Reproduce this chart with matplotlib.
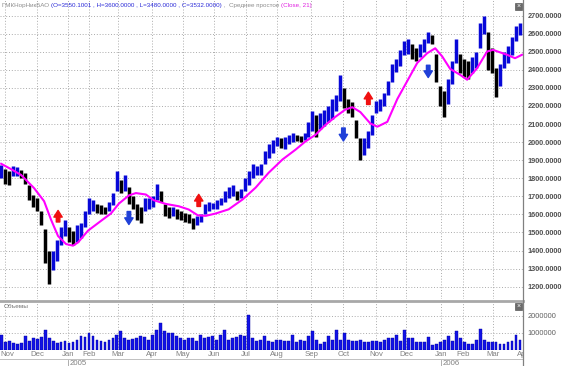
import matplotlib
matplotlib.use('Agg')
import numpy as np
import matplotlib.pyplot as plt
from matplotlib.lines import Line2D
from matplotlib.patches import Rectangle

# ГМКНорНикБАО, дневной график ноя 2004 - апр 2006
# значения, одна точка ~ 2 торговых дня
price_high = [
    1875, 1850, 1840, 1865, 1860, 1845, 1830, 1760, 1710, 1690,
    1620, 1520, 1400, 1400, 1460, 1530, 1570, 1530, 1510, 1540,
    1550, 1620, 1690, 1680, 1660, 1650, 1640, 1670, 1720, 1840,
    1790, 1820, 1750, 1700, 1660, 1640, 1690, 1690, 1700, 1770,
    1730, 1660, 1640, 1640, 1630, 1620, 1610, 1600, 1580, 1590,
    1600, 1660, 1670, 1665, 1680, 1690, 1730, 1750, 1760, 1730,
    1740, 1800, 1840, 1880, 1870, 1880, 1950, 1990, 2010, 2030,
    2020, 2030, 2040, 2050, 2040, 2035, 2050, 2110, 2170, 2150,
    2160, 2180, 2200, 2240, 2260, 2370, 2300, 2240, 2220, 2120,
    2020, 2020, 2060, 2150, 2230, 2240, 2270, 2340, 2430, 2460,
    2510, 2560, 2570, 2540, 2520, 2540, 2570, 2610, 2590, 2490,
    2310, 2280, 2350, 2450, 2570, 2490, 2460, 2450, 2470, 2500,
    2660, 2700, 2610, 2520, 2410, 2430, 2500, 2530, 2580, 2640,
    2660,
]
price_low = [
    1800, 1770, 1760, 1810, 1815, 1800, 1770, 1680, 1640, 1620,
    1540, 1330, 1215, 1290, 1340, 1430, 1480, 1450, 1430, 1450,
    1470, 1530, 1600, 1620, 1610, 1600, 1600, 1620, 1650, 1730,
    1720, 1730, 1660, 1630, 1570, 1550, 1620, 1630, 1640, 1680,
    1670, 1590, 1580, 1590, 1575, 1570, 1560, 1550, 1520, 1540,
    1560, 1600, 1620, 1630, 1630, 1650, 1670, 1690, 1700, 1680,
    1690, 1730, 1760, 1800, 1820, 1820, 1880, 1910, 1940, 1980,
    1970, 1960, 1990, 2000, 2005, 2000, 2010, 2030, 2060, 2030,
    2070, 2090, 2110, 2130, 2170, 2230, 2190, 2160, 2140, 2020,
    1900, 1930, 1970, 2040, 2160, 2170, 2200, 2260, 2330, 2390,
    2420, 2480, 2490, 2460, 2450, 2470, 2500, 2550, 2540, 2330,
    2200, 2140, 2210, 2320, 2440, 2380, 2360, 2350, 2380, 2410,
    2520, 2600, 2400, 2380, 2250, 2310, 2410, 2440, 2480, 2560,
    2590,
]
# объемы, млн
volume = [
    0.9, 0.45, 0.5, 0.4, 0.35, 0.4, 0.8, 0.55, 0.7, 0.65,
    0.75, 1.2, 0.7, 0.5, 0.4, 0.45, 0.5, 0.4, 0.45, 0.6,
    0.8, 0.75, 1.0, 0.8, 0.6, 0.5, 0.45, 0.6, 0.7, 0.9,
    1.1, 0.7, 0.6, 0.65, 0.7, 0.8, 0.75, 0.6, 0.9, 1.2,
    1.6, 1.1, 1.0, 1.0, 0.8, 0.7, 0.6, 0.7, 0.7, 0.55,
    0.9, 0.7, 0.75, 0.8, 0.6, 0.9, 1.2, 0.6, 0.7, 0.75,
    0.9, 0.8, 2.05, 0.7, 0.55, 0.6, 0.8, 0.5, 0.45, 0.6,
    0.6, 0.55, 0.5, 0.9, 0.45, 0.6, 0.55, 0.8, 1.1, 0.6,
    0.35, 0.45, 0.8, 0.6, 1.2, 0.6, 1.0, 0.6, 0.55, 0.55,
    0.6, 0.45, 0.45, 0.55, 0.5, 0.45, 0.6, 0.7, 0.7, 0.9,
    0.5, 1.15, 0.7, 0.7, 0.45, 0.45, 0.45, 0.75, 0.3, 0.35,
    0.45, 0.6, 0.8, 0.55, 1.1, 0.7, 0.45, 0.35, 0.35, 0.6,
    1.25, 0.6, 0.45, 0.45, 0.45, 0.35, 0.35, 0.45, 0.55, 0.9,
    0.6,
]

# простое среднее (Close, 21)
ma_pos = [0, 2.5, 5, 8.25, 10.75, 12.5, 14.25, 16.25, 18, 19.25,
          21.75, 25, 27.5, 29.5, 32, 33.75, 36.25, 38.25, 41.25, 44.5,
          47, 49.25, 51.25, 53.75, 57, 60.5, 63.75, 67, 70.5, 73.75,
          76.25, 78.75, 81.25, 83.75, 86.25, 88, 90, 92.5, 94.25, 96.75,
          99.25, 101.75, 104.25, 106.75, 108.75, 110.5, 112.5, 115, 116.75, 119.25,
          121.75, 123.25, 126.75, 128.75, 130.5]
ma_value = [1880, 1850, 1818, 1745, 1673, 1570, 1480, 1436, 1427, 1445,
            1510, 1564, 1605, 1660, 1705, 1718, 1710, 1678, 1658, 1645,
            1627, 1595, 1592, 1605, 1628, 1683, 1748, 1830, 1904, 1958,
            2004, 2040, 2095, 2140, 2180, 2193, 2166, 2103, 2085, 2112,
            2238, 2338, 2438, 2492, 2519, 2474, 2405, 2372, 2345, 2409,
            2501, 2510, 2483, 2464, 2483]

# сигналы (стрелки)
signal_pos = [14.25, 32, 49.5, 85.75, 92, 107]
signal_from = [1558, 1616, 1644, 2078, 2208, 2425]
signal_to = [1622, 1544, 1711, 2006, 2276, 2357]
signal_color = ['#f01010', '#2040d8', '#f01010', '#2040d8', '#f01010', '#2040d8']

month_pos = [1, 9, 16.75, 22, 29.25, 37.75, 45.5, 53.25, 61.25, 69,
             77.75, 85.75, 94, 101.5, 110.25, 115.75, 123.25, 130.75]
month_labels = ['Nov', 'Dec', 'Jan', 'Feb', 'Mar', 'Apr', 'May', 'Jun', 'Jul',
                'Aug', 'Sep', 'Oct', 'Nov', 'Dec', 'Jan', 'Feb', 'Mar', 'Apr']
year_pos = [16.75, 110.25]
year_labels = ['2005', '2006']

price_ticks = list(range(1200, 2701, 100))
volume_ticks = [1000000, 2000000]

W, H = 567, 366
GRID = dict(color='#a0a0a0', linestyle=(0, (1.2, 2.2)), linewidth=0.6)
plt.rcParams['font.family'] = ['Liberation Sans', 'DejaVu Sans']


def px(x, y):
    # пиксели картинки -> доли фигуры
    return x / W, 1 - y / H


fig = plt.figure(figsize=(W / 100, H / 100), dpi=100)
fig.patch.set_facecolor('white')

xs = np.arange(len(price_high))
xlim = (-0.3, 130.75)

# --- цена ---
ax = fig.add_axes([0, 1 - 299 / H, 523 / W, 299 / H])
hi = np.array(price_high)
lo = np.array(price_low)
mid = (hi + lo) / 2
up = np.r_[True, mid[1:] >= mid[:-1]]
colors = np.where(up, '#0808d8', '#000000')
ax.vlines(xs, lo, hi, colors=colors, linewidth=2.5)
ax.plot(ma_pos, ma_value, color='#ff00ff', linewidth=1.5)

for p, a, b, c in zip(signal_pos, signal_from, signal_to, signal_color):
    ax.annotate('', xy=(p, b), xytext=(p, a),
                arrowprops=dict(arrowstyle='simple,head_width=0.75,head_length=0.6,tail_width=0.32',
                                color=c, mutation_scale=8, shrinkA=0, shrinkB=0))

ax.set_xlim(*xlim)
ax.set_ylim(1132, 2786)
ax.set_xticks(month_pos)
ax.set_xticklabels([])
ax.yaxis.tick_right()
ax.set_yticks(price_ticks)
ax.set_yticklabels([f'{v:.4f}' for v in price_ticks], fontsize=5.3,
                   fontweight='bold', color='#505050')
ax.tick_params(length=0, pad=3.2)
ax.grid(True, **GRID)
ax.set_axisbelow(True)
for s in ax.spines.values():
    s.set_visible(False)

# --- объемы ---
av = fig.add_axes([0, 1 - 350 / H, 523 / W, 48 / H])
av.bar(xs, np.array(volume) * 1e6, width=0.72, color='#1212e6', edgecolor='#0000a0', linewidth=0.3)
av.set_xlim(*xlim)
av.set_ylim(0, 2.82e6)
av.set_xticks(month_pos)
av.set_xticklabels([])
av.yaxis.tick_right()
av.set_yticks(volume_ticks)
av.set_yticklabels([str(v) for v in volume_ticks], fontsize=5.3, color='#606060')
av.tick_params(length=0, pad=3.2)
av.grid(True, **GRID)
av.set_axisbelow(True)
for s in av.spines.values():
    s.set_visible(False)
av.text(0.008, 0.9, 'Объемы', transform=av.transAxes, fontsize=4.6,
        color='#707070', va='center')

# --- подписи месяцев / годов (обрезаются по правой оси) ---
al = fig.add_axes([0, 0, 523 / W, 16 / H])
al.set_xlim(*xlim)
al.set_ylim(0, 16)
al.axis('off')
for i, (p, m) in enumerate(zip(month_pos, month_labels)):
    if i == 0:
        # первая подпись прижата к левому краю, чтобы не обрезалась
        al.text(-0.2, 11.3, m, ha='left', va='center', fontsize=5.6, color='#808080')
    else:
        al.text(p, 11.3, m, ha='center', va='center', fontsize=5.6, color='#808080', clip_on=True)
for p, yl in zip(year_pos, year_labels):
    al.plot([p, p], [0, 6.5], color='#a0a0a0', linewidth=0.6)
    al.text(p + 0.3, 2.8, yl, ha='left', va='center', fontsize=5.6, color='#808080', clip_on=True)

# рамки и разделители
fig.add_artist(Line2D([0, 523 / W], [1 - 301 / H] * 2, color='#a8a8a8', linewidth=2.0))
fig.add_artist(Line2D([0, 523 / W], [1 - 359 / H] * 2, color='#c0c0c0', linewidth=0.7))
fig.add_artist(Line2D([523 / W] * 2, [0, 1], color='#808080', linewidth=0.9))

# кнопки закрытия панелей
for y0 in (3, 303):
    x0, y1 = px(515, y0 + 7)
    fig.add_artist(Rectangle((x0, y1), 7 / W, 7 / H, facecolor='#6a6a6a',
                             edgecolor='#404040', linewidth=0.4))
    cx, cy = px(518.5, y0 + 3.5)
    fig.text(cx, cy, '×', color='white', fontsize=5, ha='center', va='center')

# заголовок
fig.canvas.draw()
rend = fig.canvas.get_renderer()
head = [('ГМКНорНикБАО ', '#8c8c8c'),
        ('(O=3550.1001 , H=3600.0000 , L=3480.0000 , C=3532.0000)', '#2a2ad8'),
        (' ,  Среднее простое ', '#8c8c8c'),
        ('(Close, 21)', '#e020e0')]
x = 2
for txt, col in head:
    hx, hy = px(x, 6)
    t = fig.text(hx, hy, txt, color=col, fontsize=4.5, ha='left', va='center')
    x += t.get_window_extent(rend).width

fig.savefig('out.png', dpi=100, facecolor='white')
